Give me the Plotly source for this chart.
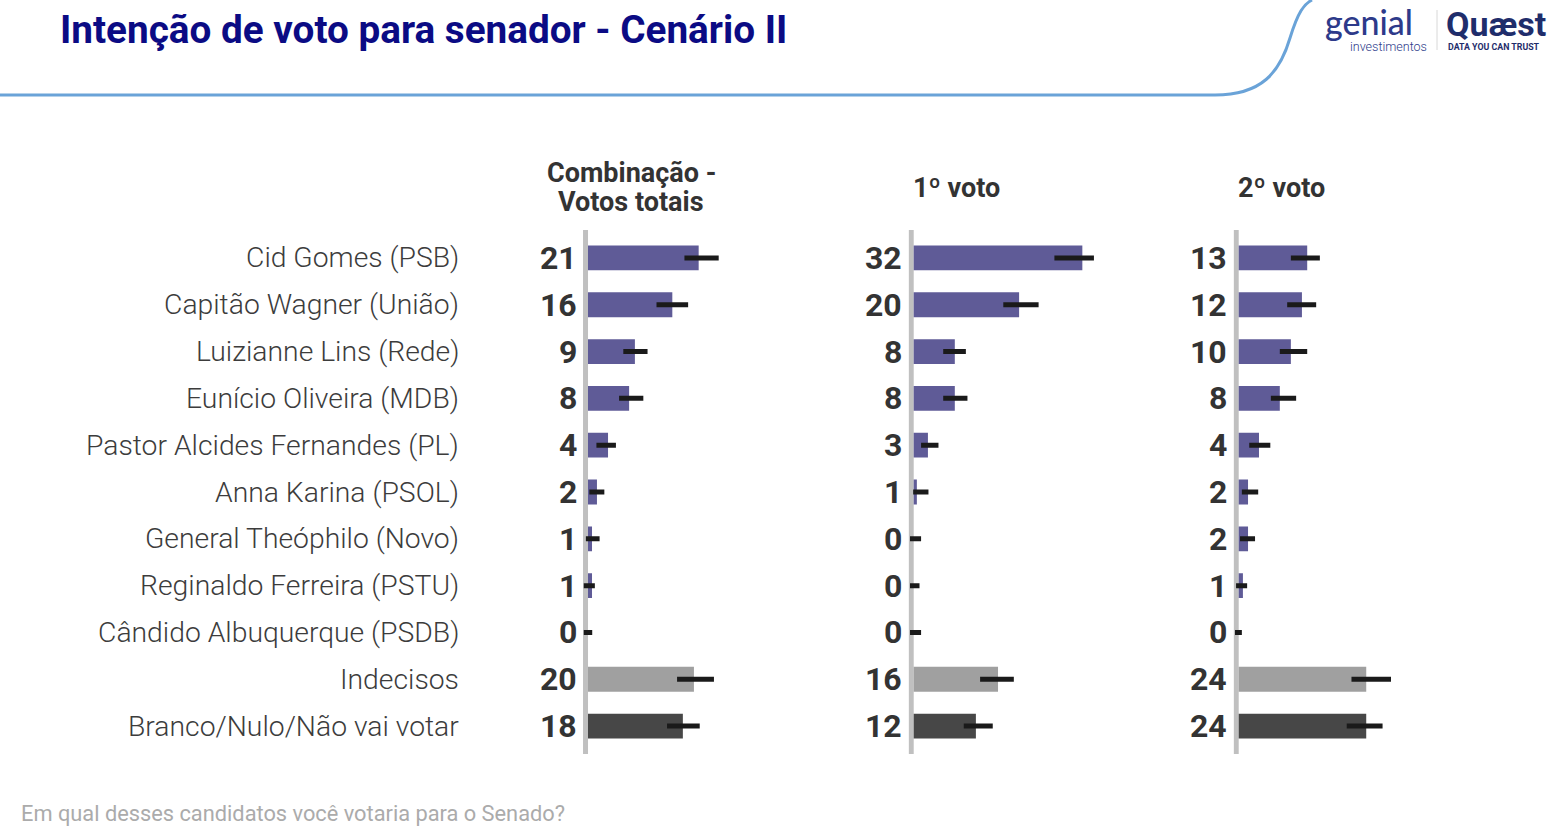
import plotly.graph_objects as go

W, H = 1553, 834

categories = [
    "Cid Gomes (PSB)", "Capitão Wagner (União)", "Luizianne Lins (Rede)",
    "Eunício Oliveira (MDB)", "Pastor Alcides Fernandes (PL)", "Anna Karina (PSOL)",
    "General Theóphilo (Novo)", "Reginaldo Ferreira (PSTU)", "Cândido Albuquerque (PSDB)",
    "Indecisos", "Branco/Nulo/Não vai votar",
]

panel_titles = [["Combinação -", "Votos totais"], ["1º voto"], ["2º voto"]]

# bar lengths (as drawn) and printed labels
comb_values = [21, 16, 8.9, 7.8, 3.8, 1.7, 0.76, 0.76, 0, 20.1, 18.0]
comb_labels = [21, 16, 9, 8, 4, 2, 1, 1, 0, 20, 18]
comb_low = [18.3, 13.0, 6.7, 5.9, 1.6, 0.25, -0.4, -0.8, -0.8, 16.9, 15.0]
comb_high = [24.8, 19.0, 11.3, 10.5, 5.3, 3.1, 2.2, 1.3, 0.8, 23.9, 21.2]

v1_values = [32, 20, 7.8, 7.8, 2.7, 0.6, 0, 0, 0, 16.0, 11.8]
v1_labels = [32, 20, 8, 8, 3, 1, 0, 0, 0, 16, 12]
v1_low = [26.7, 17.0, 5.6, 5.6, 1.4, -0.1, -0.7, -0.7, -0.7, 12.6, 9.5]
v1_high = [34.2, 23.7, 9.9, 10.2, 4.7, 2.8, 1.4, 1.1, 1.4, 19.0, 15.0]

v2_values = [13, 12, 9.9, 7.8, 3.85, 1.77, 1.77, 0.8, 0, 24.2, 24.2]
v2_labels = [13, 12, 10, 8, 4, 2, 2, 1, 0, 24, 24]
v2_low = [9.9, 9.2, 7.8, 6.1, 2.0, 0.6, 0.25, -0.5, -0.7, 21.4, 20.5]
v2_high = [15.4, 14.7, 13.0, 10.9, 6.0, 3.7, 3.1, 1.6, 0.6, 28.9, 27.3]

PURPLE = "#5f5b97"
GREY = "#a0a0a0"
DARK = "#474747"
bar_colors = [PURPLE] * 9 + [GREY, DARK]

panels = [
    (comb_values, comb_labels, comb_low, comb_high),
    (v1_values, v1_labels, v1_low, v1_high),
    (v2_values, v2_labels, v2_low, v2_high),
]

PX_PER_UNIT = 5.27
X_MIN, X_MAX = -1.0, 45.0
zero_px = [588.0, 913.7, 1238.7]

def px_x(p):
    return p / W

def px_y(p):
    return 1 - p / H

fig = go.Figure()
layout_axes = {}
annotations = []
shapes = []

y_top_px, y_bot_px = 234.5, 749.5

for i, (vals, labs, lo, hi) in enumerate(panels):
    ax = "" if i == 0 else str(i + 1)
    start = zero_px[i] + X_MIN * PX_PER_UNIT
    end = zero_px[i] + X_MAX * PX_PER_UNIT
    layout_axes["xaxis" + ax] = dict(
        domain=[px_x(start), px_x(end)], range=[X_MIN, X_MAX],
        visible=False, fixedrange=True, anchor="y",
    )
    fig.add_trace(go.Bar(
        x=vals, y=categories, orientation="h",
        marker=dict(color=bar_colors, line=dict(width=0)),
        error_x=dict(
            type="data", symmetric=False,
            array=[h - v for h, v in zip(hi, vals)],
            arrayminus=[v - l for v, l in zip(vals, lo)],
            color="#1a1a1a", thickness=5, width=0,
        ),
        xaxis="x" + ax, yaxis="y", showlegend=False, hoverinfo="skip",
    ))
    # grey vertical axis line
    shapes.append(dict(
        type="line", xref="x" + ax, yref="paper",
        x0=-0.47, x1=-0.47, y0=px_y(754), y1=px_y(230),
        line=dict(color="#c0c0c0", width=5), layer="below",
    ))
    # value labels
    for c, lab in zip(categories, labs):
        annotations.append(dict(
            x=X_MIN, y=c, xref="x" + ax, yref="y", xanchor="right", yanchor="middle",
            xshift=-4, text=f"<b>{lab}</b>", showarrow=False,
            font=dict(family="Roboto", size=32, color="#333333"),
        ))
    # panel header
    lines = panel_titles[i]
    ys = [188] if len(lines) == 1 else [173, 202]
    for line_text, yp in zip(lines, ys):
        annotations.append(dict(
            x=8.2, y=px_y(yp), xref="x" + ax, yref="paper", xanchor="center", yanchor="middle",
            text=f"<b>{line_text}</b>", showarrow=False,
            font=dict(family="Roboto", size=27, color="#333333"),
        ))

# category names
for c in categories:
    annotations.append(dict(
        x=px_x(461), y=c, xref="paper", yref="y", xanchor="right", yanchor="middle",
        text=c, showarrow=False,
        font=dict(family="Roboto", size=28.3, color="#3c3c3c", weight=300),
    ))

# title
annotations.append(dict(
    x=px_x(58), y=px_y(29), xref="paper", yref="paper", xanchor="left", yanchor="middle",
    text="<b>Intenção de voto para senador - Cenário II</b>", showarrow=False,
    font=dict(family="Roboto", size=38.7, color="#0b0b84"),
))

# footer
annotations.append(dict(
    x=px_x(19), y=px_y(813), xref="paper", yref="paper", xanchor="left", yanchor="middle",
    text="Em qual desses candidatos você votaria para o Senado?", showarrow=False,
    font=dict(family="Roboto", size=21.8, color="#ababab"),
))

# logos (text)
annotations += [
    dict(x=px_x(1323), y=px_y(22), xref="paper", yref="paper", xanchor="left", yanchor="middle",
         text="genial", showarrow=False,
         font=dict(family="Lato", size=34, color="#2d3a8a", weight=500)),
    dict(x=px_x(1429), y=px_y(47), xref="paper", yref="paper", xanchor="right", yanchor="middle",
         text="investimentos", showarrow=False,
         font=dict(family="Roboto", size=12.5, color="#2d3a8a", weight=300)),
    dict(x=px_x(1444), y=px_y(24), xref="paper", yref="paper", xanchor="left", yanchor="middle",
         text="<b>Quæst</b>", showarrow=False,
         font=dict(family="Roboto", size=34, color="#1f2d6b", weight=900)),
    dict(x=px_x(1446), y=px_y(47), xref="paper", yref="paper", xanchor="left", yanchor="middle",
         text="<b>DATA YOU CAN TRUST</b>", showarrow=False,
         font=dict(family="Roboto", size=8.8, color="#1f2d6b")),
]

shapes.append(dict(
    type="line", xref="paper", yref="paper",
    x0=px_x(1437), x1=px_x(1437), y0=px_y(50), y1=px_y(10),
    line=dict(color="#d8d8d8", width=1),
))

# header swoosh
def P(x, y):
    return f"{px_x(x):.5f},{px_y(y):.5f}"

path = (f"M {P(0, 95)} L {P(1215, 95)} C {P(1262, 95)} {P(1280, 72)} {P(1290, 38)} "
        f"C {P(1298, 12)} {P(1304, 4)} {P(1312, 0)}")
shapes.append(dict(type="path", xref="paper", yref="paper", path=path,
                   line=dict(color="#6aa3d8", width=3)))

fig.update_layout(
    width=W, height=H,
    margin=dict(l=0, r=0, t=0, b=0),
    paper_bgcolor="white", plot_bgcolor="white",
    bargap=0.47,
    yaxis=dict(domain=[px_y(y_bot_px), px_y(y_top_px)], categoryorder="array",
               categoryarray=categories, autorange="reversed", visible=False,
               fixedrange=True),
    annotations=annotations, shapes=shapes,
    **layout_axes,
)

fig.write_html("out.html")
